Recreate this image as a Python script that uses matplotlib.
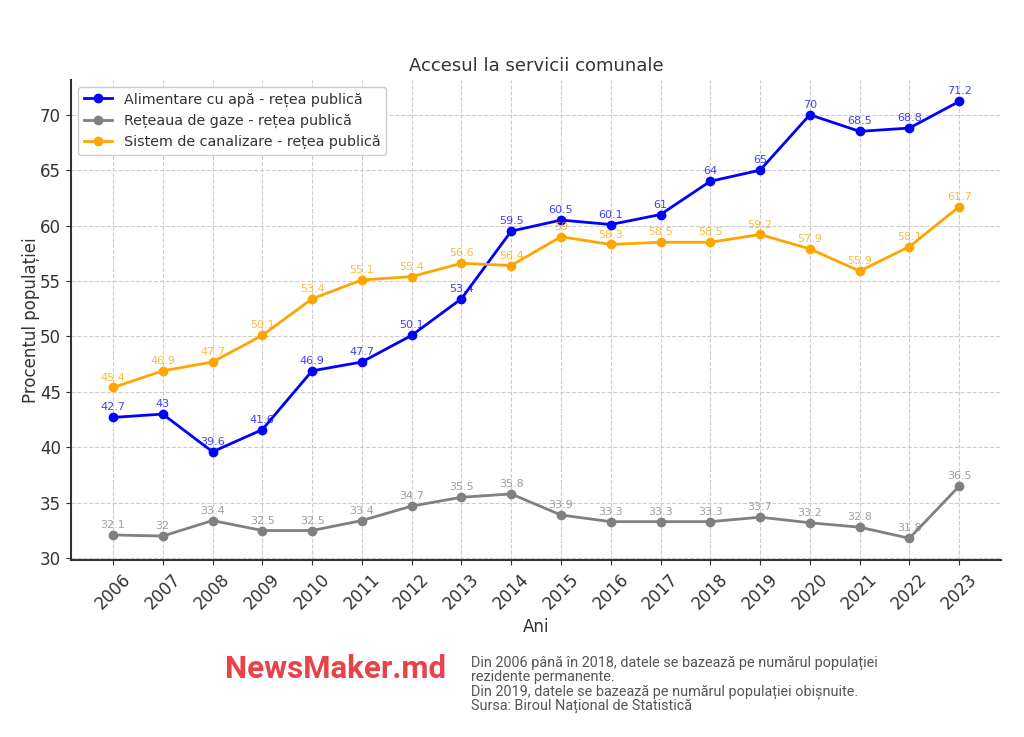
"""Accesul la servicii comunale - NewsMaker chart"""
import matplotlib
import matplotlib.pyplot as plt
matplotlib.use('agg')

years = list(range(2006, 2024))
apa = [42.7, 43, 39.6, 41.6, 46.9, 47.7, 50.1, 53.4, 59.5, 60.5, 60.1, 61, 64, 65, 70, 68.5, 68.8, 71.2]
gaze = [32.1, 32, 33.4, 32.5, 32.5, 33.4, 34.7, 35.5, 35.8, 33.9, 33.3, 33.3, 33.3, 33.7, 33.2, 32.8, 31.8, 36.5]
canal = [45.4, 46.9, 47.7, 50.1, 53.4, 55.1, 55.4, 56.6, 56.4, 59, 58.3, 58.5, 58.5, 59.2, 57.9, 55.9, 58.1, 61.7]

series = [
    ("Alimentare cu apă - rețea publică", apa, "blue"),
    ("Rețeaua de gaze - rețea publică", gaze, "gray"),
    ("Sistem de canalizare - rețea publică", canal, "orange"),
]

plt.rcParams['text.color'] = '#333333'
plt.rcParams['axes.labelcolor'] = '#333333'
plt.rcParams['xtick.color'] = '#333333'
plt.rcParams['ytick.color'] = '#333333'

fig = plt.figure(figsize=(10.24, 7.37), dpi=100)
ax = fig.add_axes([0.069, 0.24, 0.909, 0.652])

for label, vals, color in series:
    ax.plot(years, vals, marker='o', color=color, linewidth=2, markersize=6, label=label)
    for x, y in zip(years, vals):
        ax.annotate(f"{y:g}", (x, y), textcoords='offset points', xytext=(0, 5),
                    ha='center', fontsize=8, color=color, alpha=0.75)

ax.set_title("Accesul la servicii comunale", fontsize=13, pad=6)
ax.set_xlabel("Ani", fontsize=12)
ax.set_ylabel("Procentul populației", fontsize=12, labelpad=0)
ax.set_xticks(years)
ax.set_xticklabels([str(y) for y in years], rotation=45, fontsize=12)
ax.tick_params(axis='y', labelsize=12)
ax.grid(True, linestyle='--', color='#cccccc', linewidth=0.8)
ax.spines['top'].set_visible(False)
ax.spines['right'].set_visible(False)
for side in ('left', 'bottom'):
    ax.spines[side].set_linewidth(1.5)
    ax.spines[side].set_color('#333333')
ax.legend(loc='upper left', fontsize=10.3, framealpha=1, edgecolor='#cccccc',
          borderaxespad=0.5)

# Footer branding and notes
fig.text(0.22, 0.092, "NewsMaker.md", fontsize=22.5, fontweight='bold',
         color='#e8424a', family=['Roboto', 'DejaVu Sans'], va='center')
fig.text(0.46, 0.111,
         "Din 2006 până în 2018, datele se bazează pe numărul populației\n"
         "rezidente permanente.\n"
         "Din 2019, datele se bazează pe numărul populației obișnuite.\n"
         "Sursa: Biroul Național de Statistică",
         fontsize=10.4, color='#555555', family=['Roboto', 'DejaVu Sans'],
         va='top', linespacing=1.0)

plt.savefig("out.png", dpi=100)
